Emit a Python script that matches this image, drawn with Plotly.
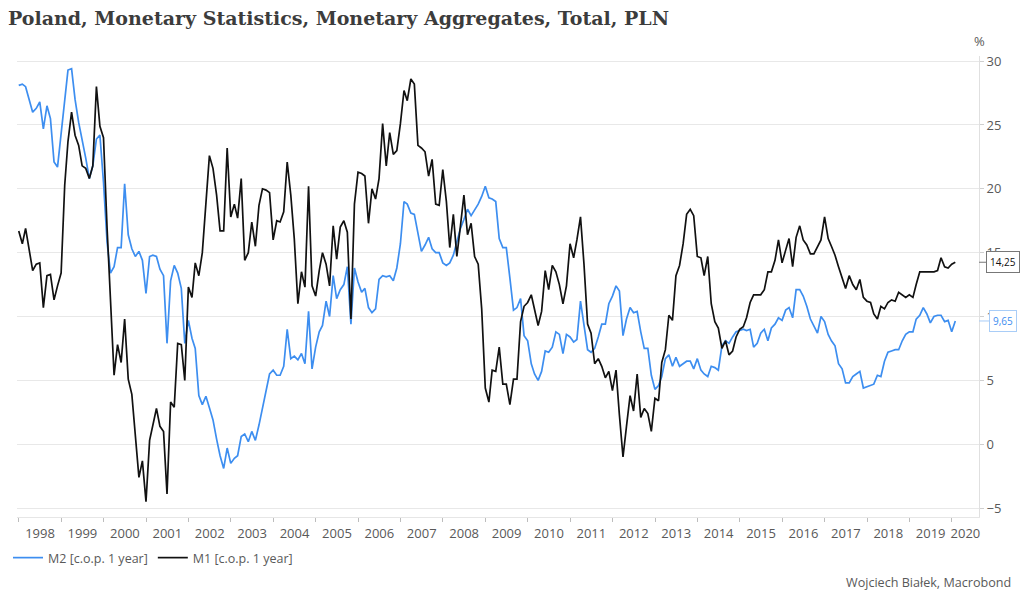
import pandas as pd
import plotly.graph_objects as go

# Monthly observations (end of month), Dec 1997 .. Jan 2020
dates = pd.date_range("1998-01-01", periods=266, freq="MS") - pd.Timedelta(days=1)

m2_values = [
    28.1, 28.2, 28.0, 27.0, 26.0, 26.3, 26.8, 24.7, 26.5, 25.5, 22.1, 21.7, 24.4, 27.0, 29.3, 29.4,
    27.0, 25.2, 23.9, 22.4, 20.8, 21.8, 23.9, 24.2, 20.5, 15.8, 13.4, 13.9, 15.4, 15.4, 20.4, 16.4,
    15.3, 14.7, 15.1, 14.4, 11.8, 14.7, 14.8, 14.7, 13.7, 13.2, 7.9, 12.8, 14.0, 13.4, 12.2, 7.9,
    9.7, 8.3, 7.5, 3.8, 3.1,
    3.75, 2.85, 1.9, 0.4, -0.9, -1.9, -0.3, -1.5, -1.1, -0.9, 0.6, 0.8, 0.2, 1.0, 0.3, 1.5, 2.8,
    4.4, 5.5, 5.8, 5.4, 5.4, 6.1, 9.0, 6.7, 6.9, 6.6, 7.1, 6.3, 10.4, 5.9, 7.6, 8.8, 9.3, 11.2,
    10.0, 13.2, 11.4, 12.1, 12.5, 13.9, 9.4, 13.8, 12.7, 11.9, 12.2, 10.7, 10.3, 10.6, 12.9, 13.2,
    13.1, 13.2, 12.8,
    13.8, 15.7, 19.0, 18.8, 18.1, 18.0, 16.4, 15.1, 15.6, 16.2, 15.3, 15.0, 15.0, 14.2, 14.0, 14.2,
    14.8, 15.8, 16.9, 17.6, 18.4, 17.9, 18.3, 18.8, 19.4, 20.2, 19.3, 19.2, 19.0, 16.1, 15.4, 15.4,
    13.0, 10.5, 10.7, 11.4, 8.5, 8.1, 6.3, 5.5, 5.0, 5.7, 7.3, 7.2, 7.6, 8.8, 8.6, 7.1, 8.6, 8.4,
    8.0, 8.2, 11.2, 9.4,
    7.4, 7.2, 7.5, 8.4, 9.4, 9.4, 11.0, 11.6, 12.4, 12.0, 8.5, 9.8, 10.7, 10.3, 10.4, 8.8, 7.5, 7.5,
    5.4, 4.3, 4.6, 5.3, 6.7, 7.0, 6.1, 6.8, 6.1, 6.3, 6.5, 6.5, 5.9, 6.7, 5.8, 5.5, 5.3, 6.1, 6.0,
    5.8, 7.7, 8.1, 7.9, 8.4, 8.8, 8.9, 9.0, 8.9, 9.0, 7.6, 7.9, 8.7, 9.0, 8.1, 9.1,
    9.4, 9.9, 9.7, 10.5, 10.7, 9.9, 12.1, 12.1, 11.6, 10.8, 9.8, 9.3, 8.7, 10.0, 9.6, 8.6, 8.1, 7.7,
    6.3, 5.9, 4.8, 4.8, 5.3, 5.5, 5.7, 4.4, 4.5, 4.6, 4.7, 5.4, 5.3, 6.5, 7.2, 7.3, 7.4, 7.4, 8.1,
    8.6, 8.8, 8.8, 9.8, 10.1, 10.7, 10.2, 9.5, 10.0, 10.1, 10.1, 9.6, 9.7, 8.8, 9.65,
]

m1_values = [
    16.7, 15.7, 16.9, 15.3, 13.6, 14.1, 14.2, 10.7, 13.2, 13.3, 11.3, 12.4, 13.4, 20.3, 23.7, 26.0,
    24.2, 23.4, 21.8, 21.6, 20.8, 21.8, 28.0, 24.9, 24.0, 16.9, 11.1, 5.4, 7.8, 6.4, 9.8, 5.1, 3.9,
    0.7, -2.6, -1.3, -4.5, 0.3, 1.6, 2.8, 1.4, 1.0, -3.9, 3.3, 2.9, 7.9, 7.8, 5.0, 12.3, 11.5, 14.2,
    13.2, 15.0,
    19.1, 22.6, 21.6, 19.5, 16.7, 16.7, 23.2, 17.8, 18.8, 17.7, 20.8, 14.4, 15.0, 17.4, 15.5, 18.7,
    20.0, 19.9, 19.7, 16.0, 17.5, 17.4, 18.2, 22.1, 19.5, 16.1, 11.0, 13.5, 12.3, 20.2, 12.4, 11.6,
    13.6, 15.0, 14.1, 12.4, 17.1, 14.5, 17.0, 17.5, 16.6, 9.8, 18.8, 21.3, 21.2, 21.0, 17.3, 20.0,
    19.2, 20.8, 25.1, 21.8, 24.4, 22.7,
    23.0, 25.1, 27.7, 26.9, 28.6, 28.2, 23.4, 23.2, 22.9, 21.0, 22.3, 18.8, 18.7, 21.5, 19.0, 15.4,
    18.0, 14.7, 17.1, 19.5, 16.4, 17.3, 14.7, 14.1, 10.6, 4.4, 3.3, 5.8, 5.7, 7.6, 4.7, 4.7, 3.1,
    5.1, 5.1, 9.6, 10.8, 11.1, 11.7, 10.6, 9.3, 10.4, 13.6, 12.1, 14.0, 13.5, 12.5, 11.0, 12.4, 15.7,
    14.6, 16.0, 17.8, 14.1,
    9.4, 8.7, 6.3, 6.7, 6.1, 5.2, 5.7, 4.2, 5.8, 2.3, -1.0, 1.4, 3.8, 2.6, 5.5, 2.1, 2.8, 2.4, 1.0,
    3.6, 3.4, 6.4, 7.4, 10.1, 9.7, 13.2, 14.0, 15.7, 18.0, 18.4, 17.9, 14.7, 14.6, 13.2, 14.7, 11.0,
    9.6, 9.1, 7.5, 8.1, 7.0, 7.3, 8.4, 9.0, 9.2, 9.9, 11.1, 11.7, 11.7, 11.7, 12.1, 13.5, 13.5,
    14.4, 16.0, 14.2, 15.2, 16.1, 13.9, 16.2, 17.1, 16.0, 15.6, 14.9, 14.9, 15.4, 16.0, 17.8, 16.1,
    15.5, 14.8, 13.9, 13.0, 12.2, 13.2, 12.5, 12.1, 12.9, 11.5, 11.2, 11.1, 10.2, 9.8, 10.8, 10.6,
    11.1, 11.3, 11.2, 11.9, 11.7, 11.5, 11.7, 11.5, 12.5, 13.5, 13.5, 13.5, 13.5, 13.5, 13.6, 14.6,
    13.9, 13.8, 14.1, 14.25,
]

series_names = ["M2 [c.o.p. 1 year]", "M1 [c.o.p. 1 year]"]
series_colors = ["#3d8ef0", "#111111"]
year_labels = [str(y) for y in range(1998, 2021)]
y_ticks = [-5, 0, 5, 10, 15, 20, 25, 30]

TEXT_GRAY = "#595959"
FONT = "Open Sans"

# plot-area geometry in pixels (used to place text outside the axes)
PL, PR, PT, PB = 17, 979, 56, 517
PW, PH = PR - PL, PB - PT

fig = go.Figure()
for name, vals, col in zip(series_names, [m2_values, m1_values], series_colors):
    fig.add_trace(go.Scatter(x=dates, y=vals, mode="lines", name=name,
                             line=dict(color=col, width=1.7)))

# year tick marks at year boundaries, labels centred in each (visible) year
boundaries = pd.to_datetime([f"{y}-01-01" for y in range(1998, 2021)])
x_end = pd.Timestamp("2020-08-22")
x_start = pd.Timestamp("1997-12-16")
label_pos = []
for y in range(1998, 2021):
    a = pd.Timestamp(f"{y}-01-01")
    b = min(pd.Timestamp(f"{y+1}-01-01"), x_end)
    label_pos.append(a + (b - a) / 2)

fig.update_xaxes(
    range=[x_start, x_end],
    tickvals=label_pos, ticktext=year_labels, ticks="",
    tickfont=dict(family=FONT, size=13, color=TEXT_GRAY),
    ticklabelstandoff=4,
    showgrid=False, showline=True, linecolor="#e6e6e6", linewidth=1,
    minor=dict(tickvals=boundaries, ticks="outside", ticklen=4, tickcolor="#bdbdbd", showgrid=False),
    zeroline=False,
)
fig.update_yaxes(
    side="right", range=[-5.7, 30.4], tickvals=y_ticks,
    ticks="outside", ticklen=4, tickcolor="#cfcfcf",
    tickfont=dict(family=FONT, size=13, color=TEXT_GRAY),
    showgrid=True, gridcolor="#e8e8e8", gridwidth=1,
    showline=True, linecolor="#e0e0e0", linewidth=1, zeroline=False,
)

# end-value callouts
for vals, col, bcol in zip([m1_values, m2_values], ["#111111", "#3d8ef0"], ["#777777", "#a9cdf7"]):
    last = vals[-1]
    fig.add_annotation(
        x=1.0, xref="paper", y=last, yref="y",
        text=f"{last:.2f}".replace(".", ","),
        showarrow=True, ax=24, ay=0, arrowhead=0, arrowwidth=1, arrowcolor=bcol,
        font=dict(family=FONT, size=10, color=col),
        bgcolor="white", bordercolor=bcol, borderwidth=1, borderpad=3,
    )

fig.add_annotation(x=1.0, xref="paper", y=1.0, yref="paper", yshift=15,
                   text="%", showarrow=False, xanchor="center", yanchor="middle",
                   font=dict(family=FONT, size=13, color=TEXT_GRAY))
fig.add_annotation(x=(1013 - PL) / PW, xref="paper", y=-(582 - PB) / PH, yref="paper",
                   text="Wojciech Białek, Macrobond", showarrow=False,
                   xanchor="right", yanchor="middle",
                   font=dict(family=FONT, size=12.6, color=TEXT_GRAY))

fig.update_layout(
    width=1024, height=600,
    margin=dict(l=PL, r=1024 - PR, t=PT, b=600 - PB, autoexpand=False),
    paper_bgcolor="white", plot_bgcolor="white",
    title=dict(text="<b>Poland, Monetary Statistics, Monetary Aggregates, Total, PLN</b>",
               x=8 / 1024, xanchor="left", y=1 - 18 / 600, yanchor="middle",
               font=dict(family="DejaVu Serif", size=19, color="#3c3c3c")),
    showlegend=True,
    legend=dict(orientation="h", x=-9 / PW, xanchor="left", y=-(558 - PB) / PH, yanchor="middle",
                font=dict(family=FONT, size=12.5, color=TEXT_GRAY), itemwidth=30,
                bgcolor="rgba(0,0,0,0)", tracegroupgap=0),
    hovermode=False,
)

fig.write_html("out.html")
